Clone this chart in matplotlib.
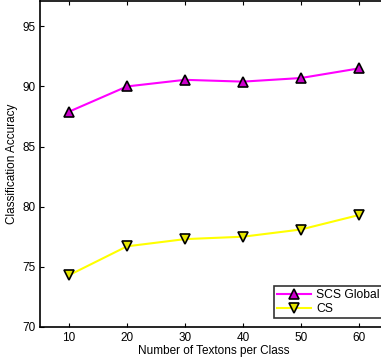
import matplotlib
matplotlib.use('Agg')
import matplotlib.pyplot as plt

textons = [10, 20, 30, 40, 50, 60]
scs_global = [87.9, 90.0, 90.55, 90.4, 90.7, 91.5]
cs = [74.3, 76.7, 77.3, 77.5, 78.1, 79.3]

plt.rcParams['font.family'] = ['Liberation Sans', 'DejaVu Sans']

fig = plt.figure(figsize=(3.81, 3.6), dpi=100)
ax = fig.add_axes([0.105, 0.092, 0.913, 0.905])

ax.plot(textons, scs_global, color='#ff00ff', lw=1.5, marker='^', ms=7.5,
        mfc='#cc00cc', mec='black', mew=1.2, label='SCS Global')
ax.plot(textons, cs, color='#ffff00', lw=1.5, marker='v', ms=7.5,
        mfc='#e6e600', mec='black', mew=1.2, label='CS')

ax.set_xlim(5, 65)
ax.set_ylim(70, 97.1)
ax.set_xticks(textons)
ax.set_yticks([70, 75, 80, 85, 90, 95])
ax.tick_params(direction='in', top=True, right=True, labelsize=8.5, length=3)
for s in ax.spines.values():
    s.set_linewidth(1.2)
ax.set_xlabel('Number of Textons per Class', fontsize=8.5, labelpad=1)
ax.set_ylabel('Classification Accuracy', fontsize=8.5, labelpad=3)

leg = ax.legend(loc='lower right', bbox_to_anchor=(1.002, 0.008), fontsize=8.7,
                frameon=True, fancybox=False, edgecolor='black',
                handlelength=2.8, borderpad=0.25, labelspacing=0.2,
                handletextpad=0.4)
leg.get_frame().set_linewidth(1.2)

fig.savefig('out.png', dpi=100)
